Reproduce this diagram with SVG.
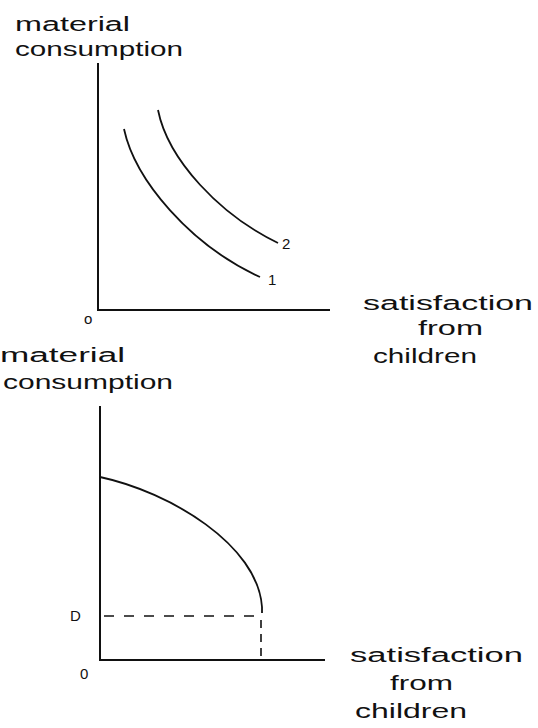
<svg xmlns="http://www.w3.org/2000/svg" width="538" height="728" viewBox="0 0 538 728">
<style>
.lbl{font-family:"Liberation Sans","DejaVu Sans",sans-serif;font-size:20px;fill:#111;}
.sm{font-family:"Liberation Sans","DejaVu Sans",sans-serif;font-size:15px;fill:#111;}
.ax{stroke:#111;stroke-width:2;fill:none;}
.cv{stroke:#111;stroke-width:1.8;fill:none;}
.dh{stroke:#111;stroke-width:1.6;fill:none;stroke-dasharray:10 10;}
.dv{stroke:#111;stroke-width:1.6;fill:none;stroke-dasharray:8 6;}
</style>
<rect width="538" height="728" fill="#fff"/>
<g id="top-graph">
  <g id="top-axes">
    <path class="ax" d="M98,63 L98,310 L330,310"/>
    <text class="sm" x="84" y="324">o</text>
  </g>
  <g id="top-ylabel">
    <text class="lbl" x="15" y="31" textLength="115" lengthAdjust="spacingAndGlyphs">material</text>
    <text class="lbl" x="15" y="56" textLength="168" lengthAdjust="spacingAndGlyphs">consumption</text>
  </g>
  <g id="top-xlabel">
    <text class="lbl" x="363" y="310" textLength="170" lengthAdjust="spacingAndGlyphs">satisfaction</text>
    <text class="lbl" x="418" y="335" textLength="65" lengthAdjust="spacingAndGlyphs">from</text>
    <text class="lbl" x="373" y="363" textLength="104" lengthAdjust="spacingAndGlyphs">children</text>
  </g>
  <g id="curve-1">
    <path class="cv" d="M124,129 C135,180 190,245 260,277"/>
    <text class="sm" x="268" y="285">1</text>
  </g>
  <g id="curve-2">
    <path class="cv" d="M158,110 C168,160 220,215 278,243"/>
    <text class="sm" x="282" y="249">2</text>
  </g>
</g>
<g id="bottom-graph">
  <g id="bottom-axes">
    <path class="ax" d="M100,406 L100,660 L325,660"/>
    <text class="sm" x="80" y="679">0</text>
    <text class="sm" x="70" y="621">D</text>
  </g>
  <g id="bottom-ylabel">
    <text class="lbl" x="0" y="362" textLength="125" lengthAdjust="spacingAndGlyphs">material</text>
    <text class="lbl" x="3" y="389" textLength="170" lengthAdjust="spacingAndGlyphs">consumption</text>
  </g>
  <g id="bottom-xlabel">
    <text class="lbl" x="350" y="662" textLength="173" lengthAdjust="spacingAndGlyphs">satisfaction</text>
    <text class="lbl" x="390" y="690" textLength="63" lengthAdjust="spacingAndGlyphs">from</text>
    <text class="lbl" x="355" y="718" textLength="112" lengthAdjust="spacingAndGlyphs">children</text>
  </g>
  <g id="frontier">
    <path class="cv" d="M100,477 C170,492 258,545 262,607 L262,613"/>
  </g>
  <g id="connectors">
    <path class="dh" d="M104,616 L262,616"/>
    <path class="dv" d="M261,620 L261,660"/>
  </g>
</g>
</svg>
